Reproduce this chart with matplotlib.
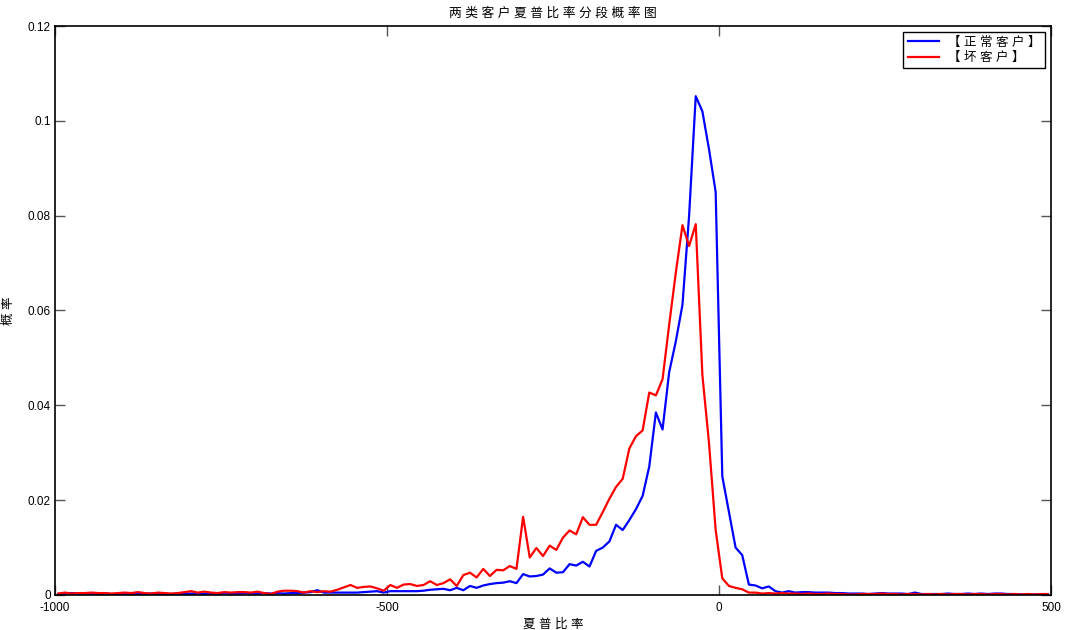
import numpy as np
import matplotlib
matplotlib.use("Agg")
import matplotlib.pyplot as plt

# latin glyphs from Liberation Sans, chinese falls back to Noto CJK
plt.rcParams['font.family'] = ['Liberation Sans', 'Noto Sans CJK SC', 'DejaVu Sans']

# bin centres of the sharpe ratio histogram
bins = np.arange(-995, 500, 10)

# probability per bin, normal customers
normal = [
    0.0002, 0.0003, 0.0004, 0.0003, 0.0003, 0.0003, 0.0002, 0.0003, 0.0002, 0.0002,  # -995..-905
    0.0003, 0.0002, 0.0003, 0.0002, 0.0003, 0.0003, 0.0002, 0.0002, 0.0003, 0.0002,  # -895..-805
    0.0003, 0.0003, 0.0002, 0.0003, 0.0002, 0.0004, 0.0003, 0.0003, 0.0004, 0.0003,  # -795..-705
    0.0003, 0.0004, 0.0003, 0.0004, 0.0003, 0.0004, 0.0004, 0.0005, 0.0006, 0.0010,  # -695..-605
    0.0005, 0.0005, 0.0005, 0.0005, 0.0005, 0.0005, 0.0006, 0.0007, 0.0008, 0.0005,  # -595..-505
    0.0008, 0.0008, 0.0008, 0.0008, 0.0008, 0.0009, 0.0011, 0.0012, 0.0013, 0.0010,  # -495..-405
    0.0015, 0.0010, 0.0019, 0.0015, 0.0020, 0.0023, 0.0025, 0.0026, 0.0029, 0.0025,  # -395..-305
    0.0044, 0.0039, 0.0040, 0.0043, 0.0056, 0.0047, 0.0048, 0.0065, 0.0062, 0.0070,  # -295..-205
    0.0060, 0.0093, 0.0100, 0.0113, 0.0148, 0.0137, 0.0158, 0.0181, 0.0209, 0.0271,  # -195..-105
    0.0385, 0.0349, 0.0470, 0.0535, 0.0612, 0.0800, 0.1052, 0.1020, 0.0940, 0.0850,  # -95..-5
    0.0250, 0.0175, 0.0100, 0.0084, 0.0022, 0.0020, 0.0014, 0.0018, 0.0008, 0.0005,  # 5..95
    0.0008, 0.0005, 0.0006, 0.0006, 0.0005, 0.0005, 0.0005, 0.0004, 0.0004, 0.0003,  # 105..195
    0.0003, 0.0003, 0.0002, 0.0003, 0.0004, 0.0003, 0.0003, 0.0003, 0.0002, 0.0005,  # 205..295
    0.0002, 0.0002, 0.0002, 0.0002, 0.0003, 0.0002, 0.0002, 0.0003, 0.0002, 0.0003,  # 305..395
    0.0002, 0.0003, 0.0003, 0.0002, 0.0002, 0.0001, 0.0001, 0.0001, 0.0001, 0.0001,  # 405..495
]

# probability per bin, bad customers
bad = [
    0.0003, 0.0005, 0.0003, 0.0004, 0.0004, 0.0005, 0.0004, 0.0004, 0.0003, 0.0004,
    0.0005, 0.0004, 0.0006, 0.0004, 0.0003, 0.0005, 0.0004, 0.0003, 0.0004, 0.0006,
    0.0008, 0.0005, 0.0007, 0.0005, 0.0004, 0.0006, 0.0005, 0.0006, 0.0006, 0.0005,
    0.0007, 0.0004, 0.0002, 0.0007, 0.0009, 0.0009, 0.0008, 0.0005, 0.0008, 0.0006,
    0.0008, 0.0007, 0.0011, 0.0016, 0.0021, 0.0015, 0.0017, 0.0018, 0.0014, 0.0009,
    0.0021, 0.0015, 0.0022, 0.0023, 0.0019, 0.0021, 0.0029, 0.0021, 0.0025, 0.0033,
    0.0019, 0.0042, 0.0047, 0.0037, 0.0055, 0.0040, 0.0053, 0.0052, 0.0061, 0.0055,
    0.0165, 0.0079, 0.0099, 0.0082, 0.0104, 0.0095, 0.0121, 0.0136, 0.0128, 0.0164,
    0.0148, 0.0148, 0.0175, 0.0203, 0.0228, 0.0245, 0.0309, 0.0335, 0.0347, 0.0427,
    0.0421, 0.0455, 0.0570, 0.0680, 0.0780, 0.0736, 0.0782, 0.0464, 0.0320, 0.0137,
    0.0035, 0.0019, 0.0015, 0.0012, 0.0005, 0.0005, 0.0003, 0.0004, 0.0003, 0.0004,
    0.0003, 0.0003, 0.0002, 0.0003, 0.0002, 0.0002, 0.0003, 0.0002, 0.0002, 0.0001,
    0.0001, 0.0002, 0.0002, 0.0002, 0.0003, 0.0002, 0.0002, 0.0001, 0.0002, 0.0002,
    0.0001, 0.0002, 0.0001, 0.0002, 0.0001, 0.0002, 0.0002, 0.0001, 0.0002, 0.0002,
    0.0001, 0.0002, 0.0002, 0.0001, 0.0002, 0.0001, 0.0002, 0.0001, 0.0002, 0.0002,
]

xticks = [-1000, -500, 0, 500]
yticks = [0, 0.02, 0.04, 0.06, 0.08, 0.1, 0.12]
ytick_labels = ['0', '0.02', '0.04', '0.06', '0.08', '0.1', '0.12']


def spaced(s):
    # the original renders chinese text with wide letter spacing
    return ' '.join(s)


fig = plt.figure(figsize=(10.66, 6.3), dpi=100)
ax = fig.add_axes([0.0516, 0.0556, 0.9343, 0.9031])

ax.plot(bins, normal, color='#0000ff', lw=1.6, label=spaced('【正常客户】'))
ax.plot(bins, bad, color='#ff0000', lw=1.6, label=spaced('【坏客户】'))

ax.set_xlim(-1000, 500)
ax.set_ylim(0, 0.12)
ax.set_xticks(xticks)
ax.set_xticklabels([str(t) for t in xticks])
ax.set_yticks(yticks)
ax.set_yticklabels(ytick_labels)
ax.tick_params(direction='in', length=7, width=1, color='#555555',
               top=True, right=True, labelsize=8.5, pad=3)
ax.tick_params(axis='x', pad=5)
for s in ax.spines.values():
    s.set_linewidth(1.2)

ax.set_title(spaced('两类客户夏普比率分段概率图'), fontsize=9.2, pad=7)
ax.set_xlabel(spaced('夏普比率'), fontsize=9, labelpad=3)
ax.set_ylabel(spaced('概率'), fontsize=9)
ax.yaxis.set_label_coords(-0.040, 0.5)

leg = ax.legend(loc='upper right', fontsize=9, fancybox=False, framealpha=1,
                edgecolor='black', borderpad=0.35, handlelength=2.5,
                handletextpad=0.7, labelspacing=0.25, borderaxespad=0.5)
leg.get_frame().set_linewidth(1.0)

fig.savefig('out.png', dpi=100)
